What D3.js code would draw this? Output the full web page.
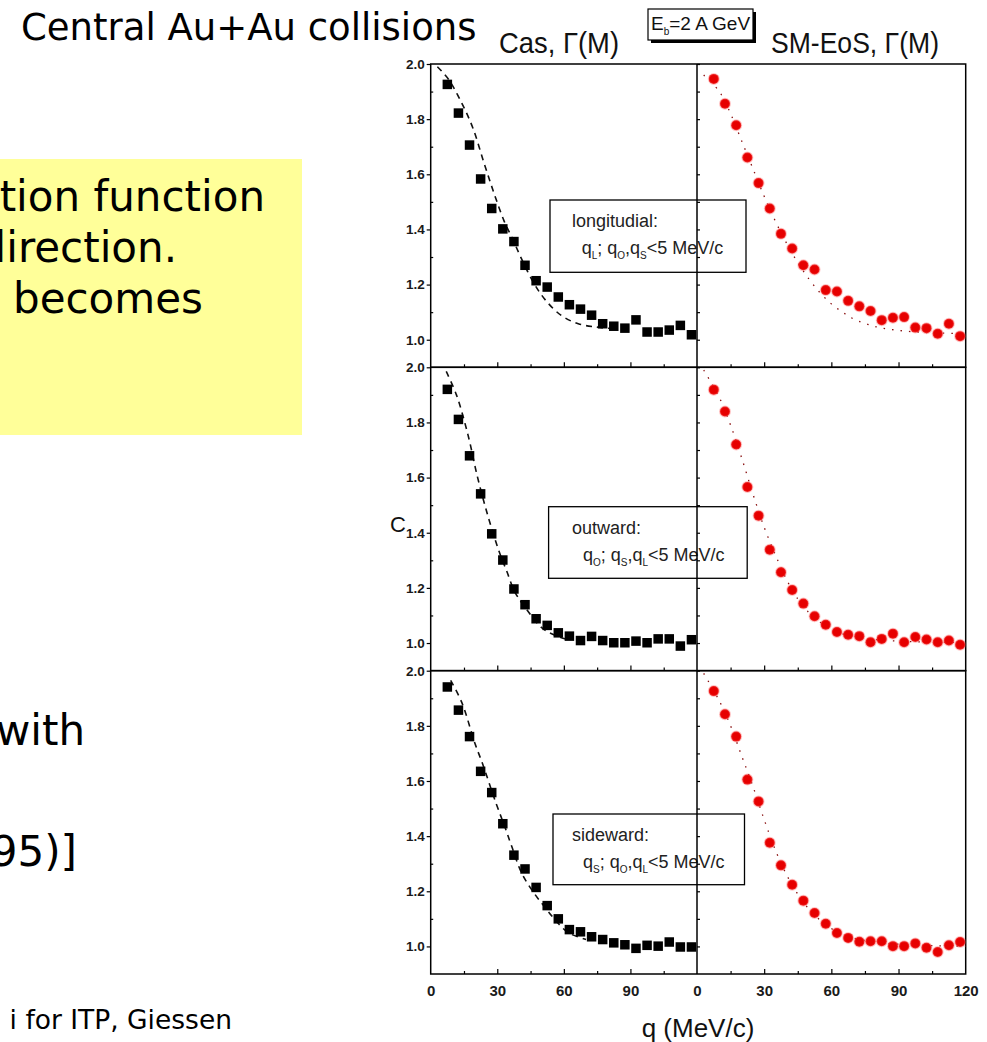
<!DOCTYPE html>
<html><head><meta charset="utf-8">
<script src="https://cdn.jsdelivr.net/npm/d3@7"></script>
<style>html,body{margin:0;padding:0;background:#fff;overflow:hidden}</style>
</head><body>
<svg id="c" width="987" height="1042"></svg>
<script>
// ---------------- data ----------------
const qValues = [7.5,12.5,17.5,22.5,27.5,32.5,37.5,42.5,47.5,52.5,57.5,62.5,67.5,72.5,77.5,82.5,87.5,92.5,97.5,102.5,107.5,112.5,117.5];
const casLong = [1.926,1.822,1.706,1.583,1.476,1.402,1.356,1.270,1.214,1.191,1.155,1.127,1.111,1.089,1.058,1.049,1.042,1.072,1.028,1.028,1.035,1.052,1.018];
const smLong  = [1.946,1.856,1.778,1.661,1.568,1.476,1.384,1.331,1.270,1.255,1.180,1.175,1.141,1.121,1.104,1.071,1.080,1.082,1.044,1.042,1.022,1.058,1.013];
const casOut  = [1.920,1.811,1.679,1.541,1.396,1.301,1.196,1.139,1.088,1.064,1.037,1.025,1.009,1.024,1.009,1.001,1.001,1.007,1.001,1.015,1.015,0.989,1.012];
const smOut   = [1.919,1.840,1.720,1.566,1.462,1.338,1.257,1.192,1.143,1.097,1.066,1.040,1.030,1.025,1.003,1.015,1.034,1.003,1.022,1.013,1.003,1.009,0.994];
const casSide = [1.941,1.857,1.761,1.635,1.558,1.445,1.331,1.281,1.214,1.148,1.100,1.061,1.053,1.035,1.025,1.013,1.006,0.993,1.004,1.001,1.016,0.998,0.998];
const smSide  = [1.926,1.842,1.761,1.605,1.526,1.376,1.294,1.224,1.166,1.121,1.082,1.049,1.031,1.017,1.019,1.019,1.001,1.001,1.011,0.995,0.980,1.004,1.016];

// dashed fits (Cas panel)
const casFitLongQ = [3,8,14,19,24,28.5,33,37,41,46.5,52,59,66.5,74.5,82];
const casFitLong  = [1.99,1.945,1.858,1.768,1.642,1.532,1.432,1.364,1.292,1.205,1.141,1.087,1.058,1.046,1.04];
const casFitOutQ  = [7,11.6,16.8,21,25.6,31,34.2,38,42.7,49.7,56,62];
const casFitOut   = [1.985,1.90,1.755,1.605,1.466,1.328,1.262,1.184,1.128,1.058,1.028,1.012];
const casFitSideQ = [9,14,20,23.3,29.5,33.4,36.5,41,46.6,51.2,56,62,70];
const casFitSide  = [1.965,1.885,1.735,1.664,1.518,1.434,1.363,1.266,1.193,1.145,1.097,1.05,1.025];
// dotted fits (SM-EoS panel)
const smFitQ    = [3,10,15,20,25,30,35,40,45,50,55,60,65,70,80,90,100,110,120];
const smFitLong = [1.96,1.90,1.82,1.72,1.62,1.52,1.43,1.35,1.28,1.22,1.17,1.13,1.10,1.075,1.047,1.034,1.027,1.024,1.022];
const smFitOut  = [1.99,1.89,1.79,1.67,1.54,1.42,1.32,1.23,1.16,1.11,1.075,1.05,1.033,1.022,1.012,1.007,1.004,1.003,1.002];
const smFitSide = [1.99,1.89,1.80,1.69,1.58,1.46,1.35,1.26,1.19,1.135,1.095,1.065,1.045,1.03,1.015,1.008,1.004,1.002,1.001];

const xTicksLeft  = [0,30,60,90];
const xTicksRight = [0,30,60,90,120];
const xMajor = [30,60,90];
const xMinor = [15,45,75,105];
const yTicks = [1.0,1.2,1.4,1.6,1.8,2.0];
const yMinor = [1.1,1.3,1.5,1.7,1.9];
const panelLabels = ["longitudial:","outward:","sideward:"];
const panelSubs = [["L","O","S"],["O","S","L"],["S","O","L"]];
const panelCas = [casLong, casOut, casSide];
const panelSm  = [smLong, smOut, smSide];
const panelCasFitQ = [casFitLongQ, casFitOutQ, casFitSideQ];
const panelCasFit  = [casFitLong, casFitOut, casFitSide];
const panelSmFit   = [smFitLong, smFitOut, smFitSide];

// ---------------- drawing ----------------
const svg = d3.select("#c");
svg.append("rect").attr("width",987).attr("height",1042).attr("fill","#fff");
const BODY = "'DejaVu Sans', Verdana, sans-serif";
const ARIAL = "'Liberation Sans', Arial, sans-serif";

// slide text
svg.append("text").attr("x",21).attr("y",40).attr("font-family",BODY).attr("font-size",37)
  .attr("fill","#000").text("Central Au+Au collisions");
svg.append("rect").attr("x",0).attr("y",159).attr("width",302).attr("height",276).attr("fill","#ffff99");
const slideLines = [
  {t:"tion function", x:265, y:211, a:"end", s:42},
  {t:"lirection.", x:177, y:262, a:"end", s:42},
  {t:"becomes", x:13, y:313, a:"start", s:42},
  {t:"with", x:85, y:745, a:"end", s:42},
  {t:"95)]", x:77, y:866, a:"end", s:42},
  {t:"i for ITP, Giessen", x:232, y:1029, a:"end", s:26.5}
];
slideLines.forEach(d=>{
  svg.append("text").attr("x",d.x).attr("y",d.y).attr("text-anchor",d.a)
    .attr("font-family",BODY).attr("font-size",d.s).attr("fill","#000").text(d.t);
});

// chart geometry
const X0 = 430.7, XM = 697, X1 = 965.7;
const panelTop = [64, 367.3, 670.7], PH = 303.3;
const xL = d3.scaleLinear().domain([0,120]).range([X0, XM]);
const xR = d3.scaleLinear().domain([0,120]).range([XM, X1]);
const chart = svg.append("g");

// header
chart.append("text").attr("x",499).attr("y",53).attr("font-family",ARIAL).attr("font-size",30)
  .attr("textLength",120).attr("lengthAdjust","spacingAndGlyphs").attr("fill","#111").text("Cas, Γ(M)");
chart.append("text").attr("x",771).attr("y",53).attr("font-family",ARIAL).attr("font-size",30)
  .attr("textLength",168).attr("lengthAdjust","spacingAndGlyphs").attr("fill","#111").text("SM-EoS, Γ(M)");
chart.append("rect").attr("x",651).attr("y",12).attr("width",105).attr("height",31).attr("fill","#000");
chart.append("rect").attr("x",648).attr("y",9).attr("width",105).attr("height",31)
  .attr("fill","#fff").attr("stroke","#000").attr("stroke-width",1.2);
const eb = chart.append("text").attr("x",651).attr("y",30).attr("font-family",ARIAL).attr("font-size",19)
  .attr("fill","#111");
eb.append("tspan").text("E");
eb.append("tspan").attr("font-size",10).attr("dy",5).text("b");
eb.append("tspan").attr("dy",-5).text("=2 A GeV");

function styleAxis(g){
  g.select(".domain").remove();
  g.selectAll(".tick line").attr("stroke","#000").attr("stroke-width",1.2);
  g.selectAll(".tick text").attr("font-family",ARIAL).attr("font-weight","bold").attr("fill","#1a1a1a");
}

const dashLine = d3.line().curve(d3.curveCatmullRom);

panelTop.forEach((top,i)=>{
  const y = d3.scaleLinear().domain([0.9,2.0]).range([top+PH, top]);
  const g = chart.append("g");

  // text box
  const bx = [550,548.6,553][i], by = [200,506.7,814][i], bw = [196,198.6,191.5][i], bh = [72.3,71.6,70.7][i];
  g.append("rect").attr("x",bx).attr("y",by).attr("width",bw).attr("height",bh)
    .attr("fill","none").attr("stroke","#000").attr("stroke-width",1.3);
  g.append("text").attr("x",572).attr("y",by+27).attr("font-family",ARIAL).attr("font-size",18)
    .attr("fill","#222").text(panelLabels[i]);
  const t2 = g.append("text").attr("x",[581.7,583,583][i]).attr("y",by+54).attr("font-family",ARIAL)
    .attr("font-size",18).attr("fill","#222");
  const s = panelSubs[i];
  t2.append("tspan").text("q");
  t2.append("tspan").attr("font-size",10).attr("dy",5).text(s[0]);
  t2.append("tspan").attr("dy",-5).text("; q");
  t2.append("tspan").attr("font-size",10).attr("dy",5).text(s[1]);
  t2.append("tspan").attr("dy",-5).text(",q");
  t2.append("tspan").attr("font-size",10).attr("dy",5).text(s[2]);
  t2.append("tspan").attr("dy",-5).text("<5 MeV/c");

  // axes ticks
  const la = g.append("g").attr("transform",`translate(${X0},0)`)
    .call(d3.axisLeft(y).tickValues(yTicks).tickSize(4).tickPadding(2).tickFormat(d3.format(".1f")));
  styleAxis(la); la.selectAll(".tick text").attr("font-size",13.5);
  const lm = g.append("g").attr("transform",`translate(${X0},0)`)
    .call(d3.axisRight(y).tickValues(yMinor).tickSize(2.5).tickFormat(""));
  styleAxis(lm);
  const dv = g.append("g").attr("transform",`translate(${XM},0)`)
    .call(d3.axisRight(y).tickValues(yTicks.concat(yMinor)).tickSize(3).tickFormat(""));
  styleAxis(dv);
  [xL, xR].forEach((xs,k)=>{
    const maj = g.append("g").attr("transform",`translate(0,${top+PH})`)
      .call(d3.axisBottom(xs).tickValues(xMajor).tickSize(-5).tickFormat(""));
    styleAxis(maj);
    const mn = g.append("g").attr("transform",`translate(0,${top+PH})`)
      .call(d3.axisBottom(xs).tickValues(xMinor).tickSize(-3).tickFormat(""));
    styleAxis(mn);
    if(i===2){
      const lab = g.append("g").attr("transform",`translate(0,${top+PH})`)
        .call(d3.axisBottom(xs).tickValues(k===0?xTicksLeft:xTicksRight).tickSize(0).tickPadding(11));
      styleAxis(lab); lab.selectAll(".tick text").attr("font-size",15);
    }
  });

  // frame
  g.append("rect").attr("x",X0).attr("y",top).attr("width",X1-X0).attr("height",PH)
    .attr("fill","none").attr("stroke","#000").attr("stroke-width",1.5);
  g.append("line").attr("x1",XM).attr("x2",XM).attr("y1",top).attr("y2",top+PH)
    .attr("stroke","#000").attr("stroke-width",1.5);

  // fits
  const cq = panelCasFitQ[i], cv = panelCasFit[i];
  g.append("path").attr("d", dashLine(cq.map((q,j)=>[xL(q), y(cv[j])])))
    .attr("fill","none").attr("stroke","#111").attr("stroke-width",1.6).attr("stroke-dasharray","6,5");
  const sv = panelSmFit[i];
  g.append("path").attr("d", dashLine(smFitQ.map((q,j)=>[xR(q), y(sv[j])])))
    .attr("fill","none").attr("stroke","#8a1010").attr("stroke-width",1.3).attr("stroke-dasharray","1.5,7");

  // markers
  g.selectAll(".sq").data(panelCas[i]).join("rect")
    .attr("x",(d,j)=>xL(qValues[j])-4.75).attr("y",d=>y(d)-4.75).attr("width",9.5).attr("height",9.5).attr("fill","#000");
  g.selectAll(".ci").data(panelSm[i]).join("circle")
    .attr("cx",(d,j)=>xR(qValues[j])).attr("cy",d=>y(d)).attr("r",5)
    .attr("fill","#e60000").attr("stroke","rgba(255,90,90,0.35)").attr("stroke-width",2);
});

// axis titles
chart.append("text").attr("x",398).attr("y",532).attr("text-anchor","middle").attr("font-family",ARIAL)
  .attr("font-size",22).attr("fill","#111").text("C");
chart.append("text").attr("x",698).attr("y",1037).attr("text-anchor","middle").attr("font-family",ARIAL)
  .attr("font-size",26).attr("fill","#111").text("q (MeV/c)");
</script>
</body></html>
